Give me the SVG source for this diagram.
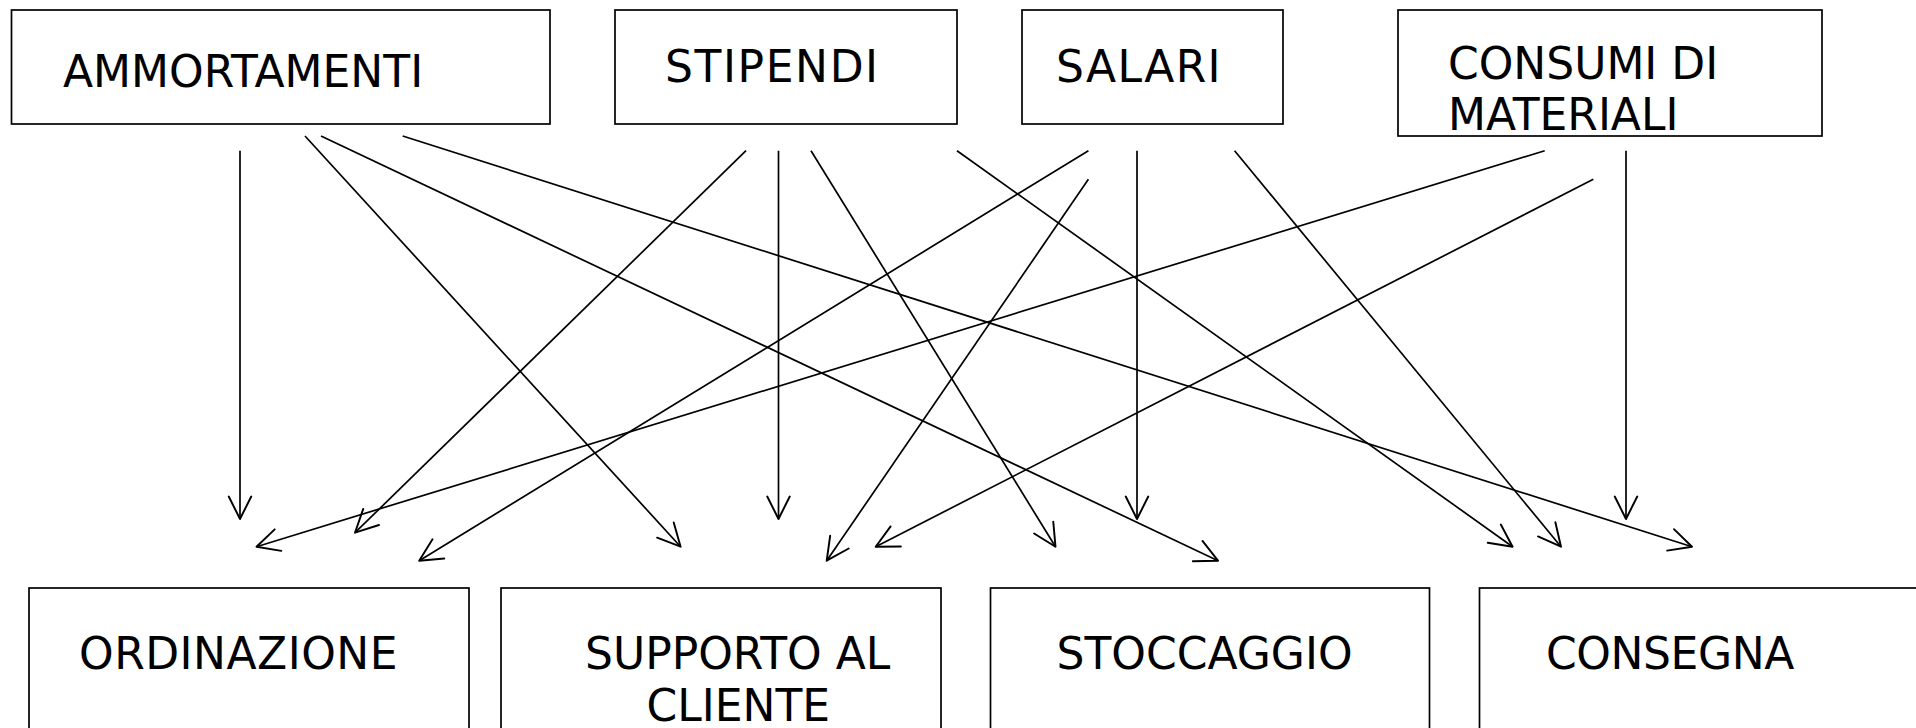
<svg xmlns="http://www.w3.org/2000/svg" width="1916" height="728" viewBox="0 0 1916 728">
  <style>
    .box { fill: #ffffff; stroke: #000000; stroke-width: 1.7; }
    .label { font-family: "DejaVu Sans", "Verdana", sans-serif; font-size: 44px; fill: #000000; }
    .link { fill: none; stroke: #000000; stroke-width: 1.7; marker-end: url(#open-arrow); }
  </style>
  <defs>
    <marker id="open-arrow" markerUnits="userSpaceOnUse" markerWidth="30" markerHeight="30" viewBox="-25 -13 28 26" refX="0" refY="0" orient="auto" overflow="visible">
      <path d="M-21,-10.5 L0,0 L-21,10.5" fill="none" stroke="#000000" stroke-width="1.8" stroke-linecap="round" stroke-linejoin="round"/>
    </marker>
  </defs>
  <rect x="0" y="0" width="1916" height="728" fill="#ffffff"/>

  <!-- cost sources (top row) -->
  <g id="node-ammortamenti">
    <rect class="box" x="11.5" y="10" width="538.5" height="114"/>
    <text class="label" x="63" y="87">AMMORTAMENTI</text>
  </g>
  <g id="node-stipendi">
    <rect class="box" x="615" y="10" width="342" height="114"/>
    <text class="label" x="665" y="82" letter-spacing="1.6">STIPENDI</text>
  </g>
  <g id="node-salari">
    <rect class="box" x="1022" y="10" width="261" height="114"/>
    <text class="label" x="1056" y="82" letter-spacing="1.3">SALARI</text>
  </g>
  <g id="node-consumi">
    <rect class="box" x="1398" y="10" width="424" height="126"/>
    <text class="label" x="1448" y="79">CONSUMI DI</text>
    <text class="label" x="1448" y="130">MATERIALI</text>
  </g>

  <!-- activities (bottom row) -->
  <g id="node-ordinazione">
    <rect class="box" x="29" y="588" width="440" height="180"/>
    <text class="label" x="79" y="669" letter-spacing="0.5">ORDINAZIONE</text>
  </g>
  <g id="node-supporto">
    <rect class="box" x="501" y="588" width="440" height="180"/>
    <text class="label" x="585" y="669">SUPPORTO AL</text>
    <text class="label" x="646.5" y="720.5">CLIENTE</text>
  </g>
  <g id="node-stoccaggio">
    <rect class="box" x="990.5" y="588" width="439" height="180"/>
    <text class="label" x="1056.5" y="669">STOCCAGGIO</text>
  </g>
  <g id="node-consegna">
    <rect class="box" x="1479.5" y="588" width="460" height="180"/>
    <text class="label" x="1546" y="669" letter-spacing="-0.4">CONSEGNA</text>
  </g>

  <!-- allocation arrows -->
  <g id="connectors">
    <line class="link" x1="240" y1="150.7" x2="240" y2="519"/>
    <line class="link" x1="305" y1="136" x2="680.6" y2="546.7"/>
    <line class="link" x1="321" y1="136" x2="1218" y2="560.7"/>
    <line class="link" x1="402.7" y1="136" x2="1692" y2="546.7"/>
    <line class="link" x1="746" y1="150.7" x2="355" y2="532.7"/>
    <line class="link" x1="778.5" y1="150.7" x2="778.5" y2="519"/>
    <line class="link" x1="811" y1="150.7" x2="1055.5" y2="546.7"/>
    <line class="link" x1="957" y1="150.7" x2="1512.6" y2="546.7"/>
    <line class="link" x1="1088.4" y1="150.7" x2="419.2" y2="560.7"/>
    <line class="link" x1="1088.4" y1="179.3" x2="826.7" y2="560.7"/>
    <line class="link" x1="1137" y1="150.7" x2="1137" y2="519"/>
    <line class="link" x1="1234.6" y1="150.7" x2="1561" y2="546.7"/>
    <line class="link" x1="1544.7" y1="150.7" x2="256.5" y2="546.7"/>
    <line class="link" x1="1593.3" y1="179.3" x2="875.7" y2="546.7"/>
    <line class="link" x1="1626" y1="150.7" x2="1626" y2="519"/>
  </g>
</svg>
